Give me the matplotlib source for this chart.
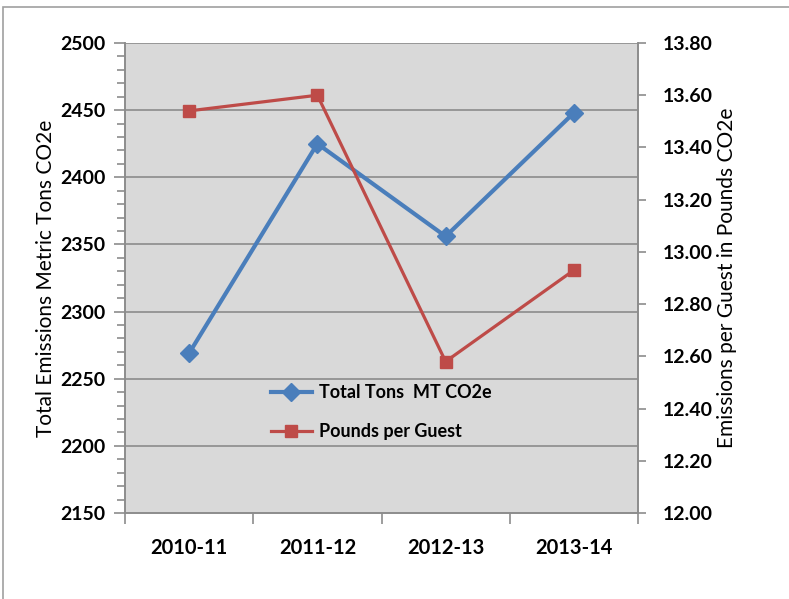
import matplotlib
matplotlib.use("Agg")
import matplotlib.pyplot as plt
from matplotlib.ticker import MultipleLocator, FixedLocator
from matplotlib.patches import Rectangle

categories = ["2010-11", "2011-12", "2012-13", "2013-14"]
total_tons = [2269, 2425, 2356, 2448]
pounds_per_guest = [13.54, 13.60, 12.58, 12.93]
left_ticks = [2150, 2200, 2250, 2300, 2350, 2400, 2450, 2500]
right_ticks = [12.00, 12.20, 12.40, 12.60, 12.80, 13.00, 13.20, 13.40, 13.60, 13.80]

plt.rcParams['font.family'] = ['Lato', 'DejaVu Sans']

fig = plt.figure(figsize=(7.89, 5.99), dpi=100)
W, H = 789, 599
ax = fig.add_axes([125 / W, 1 - 513 / H, 513 / W, 470 / H])
ax2 = ax.twinx()

blue = "#4A7EBB"
red = "#BE4B48"
grid_c = "#8C8C8C"

ax.set_facecolor("#D9D9D9")
ax.set_zorder(1)
ax2.set_zorder(2)

x = list(range(len(categories)))

h1, = ax.plot(x, total_tons, color=blue, lw=3, marker="D", ms=9,
              markerfacecolor=blue, markeredgecolor=blue, label="Total Tons  MT CO2e", zorder=5)
h2, = ax2.plot(x, pounds_per_guest, color=red, lw=2.3, marker="s", ms=8,
               markerfacecolor=red, markeredgecolor=red, label="Pounds per Guest", zorder=5)

ax.set_xlim(-0.5, 3.5)
ax.set_ylim(2150, 2500)
ax2.set_ylim(12.0, 13.8)

tfs = 14
ax.set_yticks(left_ticks)
ax.yaxis.set_minor_locator(MultipleLocator(10))
ax.set_yticklabels([str(v) for v in left_ticks], fontsize=tfs, fontweight="bold")
ax2.set_yticks(right_ticks)
ax2.set_yticklabels([f"{v:.2f}" for v in right_ticks], fontsize=tfs, fontweight="bold")

ax.set_xticks(x)
ax.set_xticklabels(categories, fontsize=14.5, fontweight="bold")
ax.tick_params(axis="x", which="major", length=0, pad=18)
ax.xaxis.set_minor_locator(FixedLocator([-0.5, 0.5, 1.5, 2.5, 3.5]))
ax.tick_params(axis="x", which="minor", length=8, color=grid_c, width=1.2, direction="out")

ax.tick_params(axis="y", which="major", length=8, color=grid_c, width=1.2, pad=6)
ax.tick_params(axis="y", which="minor", length=6, color=grid_c, width=1.2)
ax2.tick_params(axis="y", which="major", length=6, color=grid_c, width=1.2, pad=12)

for v in left_ticks[1:]:
    ax.axhline(v, color=grid_c, lw=1.2, zorder=1)

for a in (ax, ax2):
    for s in ("left", "right", "bottom"):
        a.spines[s].set_color(grid_c)
        a.spines[s].set_linewidth(1.2)
    a.spines["top"].set_visible(False)

ax.set_ylabel("Total Emissions Metric Tons CO2e", fontsize=15, labelpad=3)
ax2.set_ylabel("Emissions per Guest in Pounds CO2e", fontsize=15, rotation=90, labelpad=3)

leg = ax2.legend(handles=[h1, h2], loc="upper left", bbox_to_anchor=(0.27, 0.29),
                 frameon=False, prop={"weight": "bold", "size": 13}, handlelength=2.3,
                 labelspacing=1.25, borderaxespad=0, handletextpad=0.35)

fig.patches.append(Rectangle((3 / W, -0.1), 2, 1 - 7 / H + 0.1, transform=fig.transFigure,
                             fill=False, edgecolor="#A0A0A0", lw=1.2))

fig.savefig("out.png", dpi=100)
